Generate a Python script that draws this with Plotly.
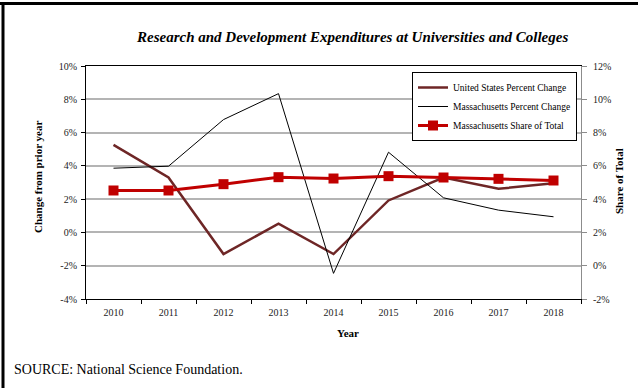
import plotly.graph_objects as go

years = ["2010", "2011", "2012", "2013", "2014", "2015", "2016", "2017", "2018"]
us_change = [0.0526, 0.0330, -0.0130, 0.0052, -0.0130, 0.0192, 0.0330, 0.0262, 0.0296]
ma_change = [0.0386, 0.0398, 0.0678, 0.0834, -0.0246, 0.0482, 0.0208, 0.0134, 0.0094]
ma_share = [0.0452, 0.0452, 0.0490, 0.0532, 0.0524, 0.0538, 0.0530, 0.0522, 0.0512]

left_ticks = [-0.04, -0.02, 0.0, 0.02, 0.04, 0.06, 0.08, 0.10]
left_labels = ["-4%", "-2%", "0%", "2%", "4%", "6%", "8%", "10%"]
right_ticks = [-0.02, 0.0, 0.02, 0.04, 0.06, 0.08, 0.10, 0.12]
right_labels = ["-2%", "0%", "2%", "4%", "6%", "8%", "10%", "12%"]

W, H = 638, 388
ML, MR, MT, MB = 86, 57, 66, 89
PW, PH = W - ML - MR, H - MT - MB

def px(x):
    return (x - ML) / PW

def py(y):
    return (H - MB - y) / PH

serif = "Liberation Serif"

fig = go.Figure()
fig.add_trace(go.Scatter(
    x=years, y=us_change, name="United States Percent Change",
    mode="lines", line=dict(color="#6e2626", width=2.5),
))
fig.add_trace(go.Scatter(
    x=years, y=ma_change, name="Massachusetts Percent Change",
    mode="lines", line=dict(color="#000000", width=1),
))
fig.add_trace(go.Scatter(
    x=years, y=ma_share, name="Massachusetts Share of Total", yaxis="y2",
    mode="lines+markers", line=dict(color="#c00000", width=3),
    marker=dict(symbol="square", size=10, color="#c00000"),
))

fig.update_layout(
    width=W, height=H,
    margin=dict(l=ML, r=MR, t=MT, b=MB),
    paper_bgcolor="white", plot_bgcolor="white",
    font=dict(family=serif, size=10, color="#222222"),
    showlegend=True,
    legend=dict(
        x=px(412), y=py(72), xanchor="left", yanchor="top",
        bgcolor="white", bordercolor="#000000", borderwidth=1,
        font=dict(family=serif, size=9.5, color="#000000"),
        itemwidth=30, tracegroupgap=0,
    ),
    xaxis=dict(
        type="category", range=[-0.5, 8.5],
        showline=True, linecolor="#000000", linewidth=1, mirror=True,
        ticks="outside", tickson="boundaries", ticklen=4, tickcolor="#000000",
        ticklabelstandoff=4,
        showgrid=False, tickfont=dict(family=serif, size=10, color="#222222"),
    ),
    yaxis=dict(
        range=[-0.04, 0.10], tickvals=left_ticks, ticktext=left_labels,
        showline=True, linecolor="#000000", linewidth=1,
        ticks="outside", ticklen=4, tickcolor="#000000",
        ticklabelstandoff=2,
        showgrid=True, gridcolor="#b4b4b4", gridwidth=1.5,
        zeroline=False, tickfont=dict(family=serif, size=10, color="#222222"),
    ),
    yaxis2=dict(
        range=[-0.02, 0.12], tickvals=right_ticks, ticktext=right_labels,
        overlaying="y", side="right",
        showline=True, linecolor="#8c8c8c", linewidth=1,
        ticks="outside", ticklen=5, tickcolor="#8c8c8c",
        ticklabelstandoff=4,
        showgrid=False, zeroline=False, tickfont=dict(family=serif, size=10, color="#222222"),
    ),
    annotations=[
        dict(text="Research and Development Expenditures at Universities and Colleges",
             x=px(352), y=py(37), xref="paper", yref="paper", showarrow=False,
             xanchor="center", yanchor="middle",
             font=dict(family=serif, size=15, color="#000000", weight="bold", style="italic")),
        dict(text="Change from prior year", x=px(38), y=py(177), xref="paper", yref="paper",
             showarrow=False, textangle=-90, xanchor="center", yanchor="middle",
             font=dict(family=serif, size=11, color="#000000", weight="bold")),
        dict(text="Share of Total", x=px(619), y=py(181), xref="paper", yref="paper",
             showarrow=False, textangle=-90, xanchor="center", yanchor="middle",
             font=dict(family=serif, size=11, color="#000000", weight="bold")),
        dict(text="Year", x=px(348), y=py(333), xref="paper", yref="paper",
             showarrow=False, xanchor="center", yanchor="middle",
             font=dict(family=serif, size=11, color="#000000", weight="bold")),
        dict(text="SOURCE: National Science Foundation.", x=px(12), y=py(369),
             xref="paper", yref="paper", showarrow=False, xanchor="left", yanchor="middle",
             font=dict(family=serif, size=14, color="#000000")),
    ],
    shapes=[
        dict(type="line", xref="paper", yref="paper", x0=px(0), x1=px(W), y0=py(3.5), y1=py(3.5),
             line=dict(color="#000000", width=3)),
        dict(type="line", xref="paper", yref="paper", x0=px(3), x1=px(3), y0=py(2), y1=py(H),
             line=dict(color="#000000", width=3)),
    ],
)

fig.write_html("out.html")
